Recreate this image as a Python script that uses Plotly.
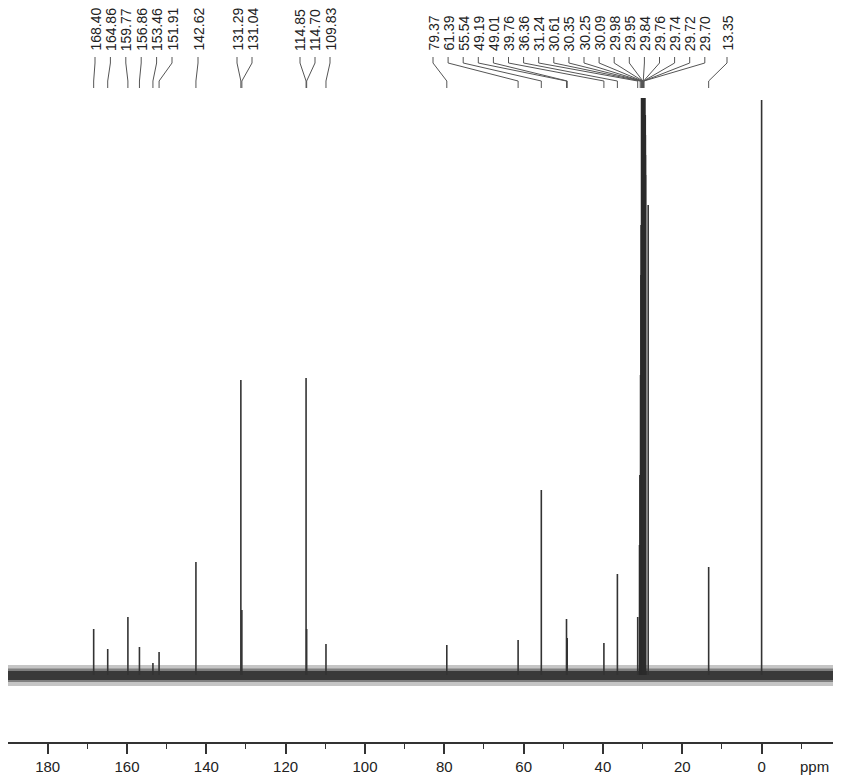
import plotly.graph_objects as go

# ---------------- data ----------------
label_ppm = [168.40, 164.86, 159.77, 156.86, 153.46, 151.91, 142.62, 131.29, 131.04,
             114.85, 114.70, 109.83, 79.37, 61.39, 55.54, 49.19, 49.01, 39.76, 36.36,
             31.24, 30.61, 30.35, 30.25, 30.09, 29.98, 29.95, 29.84, 29.76, 29.74,
             29.72, 29.70, 13.35]
label_text = ["168.40", "164.86", "159.77", "156.86", "153.46", "151.91", "142.62", "131.29", "131.04",
              "114.85", "114.70", "109.83", "79.37", "61.39", "55.54", "49.19", "49.01", "39.76", "36.36",
              "31.24", "30.61", "30.35", "30.25", "30.09", "29.98", "29.95", "29.84", "29.76", "29.74",
              "29.72", "29.70", "13.35"]
peak_height = [46, 26, 58, 28, 12, 23, 113, 295, 65,
               297, 46, 31, 30, 35, 185, 56, 37, 32, 101,
               58, 60, 130, 200, 300, 400, 450, 577, 560, 540,
               520, 500, 108]
# peaks without a printed label (shoulder of the CH2 envelope and TMS reference)
extra_ppm = [28.6, 0.0]
extra_height = [470, 575]
noise_level = 5  # half-height of the dense baseline noise band

tick_vals = [180, 160, 140, 120, 100, 80, 60, 40, 20, 0]
minor_vals = [170, 150, 130, 110, 90, 70, 50, 30, 10, -10]

# ---------------- layout helpers (screen pixels) ----------------
SCREEN_W, SCREEN_H = 847, 779
BODY = 8                       # default page margin of the html body
W, H = SCREEN_W - BODY, SCREEN_H - BODY
PLOT_L, PLOT_R = 8, 833        # screen x of plot edges
PLOT_T, PLOT_B = 8, 742        # screen y of plot edges
X_LEFT, X_RIGHT = 190.0, -18.0
BASE_PX = 675                  # screen row of the baseline
Y_MIN, Y_MAX = BASE_PX - PLOT_B, BASE_PX - PLOT_T

ML = PLOT_L - BODY
MR = W - (PLOT_R - BODY)
MT = PLOT_T - BODY
MB = H - (PLOT_B - BODY)


def px_to_ppm(px):
    return X_LEFT - (px - PLOT_L) * (X_LEFT - X_RIGHT) / (PLOT_R - PLOT_L)


def py_to_int(py):
    return BASE_PX - py


# label slot groups: (start px, spacing px, count)
slot_groups = [(95, 15.4, 6), (198, 0, 1), (237, 15, 2), (300, 15, 3), (433, 15.1, 19), (727, 0, 1)]
slots_px = []
for s, d, n in slot_groups:
    slots_px += [s + d * k for k in range(n)]

BIG = 120  # peaks taller than this inside the CH2 envelope are drawn as a thick bar

fig = go.Figure()

# baseline noise band
def band(lo, hi, color):
    fig.add_trace(go.Scatter(x=[X_LEFT, X_RIGHT, X_RIGHT, X_LEFT, X_LEFT],
                             y=[lo, lo, hi, hi, lo], fill="toself", fillcolor=color,
                             line=dict(width=0), mode="lines", hoverinfo="skip", showlegend=False))


band(-noise_level * 2.2, noise_level * 2.0, "rgba(90,90,90,0.35)")
band(-noise_level * 1.4, noise_level * 1.3, "rgba(70,70,70,0.55)")
band(-noise_level, noise_level * 0.8, "rgba(50,50,50,0.9)")

# peaks
xs, ys, xb, yb = [], [], [], []
all_ppm = label_ppm + extra_ppm
all_h = peak_height + extra_height
for p, h in zip(all_ppm, all_h):
    if 29.6 < p < 30.4 and h > BIG:
        xb += [p, p, None]
        yb += [0, h, None]
    else:
        xs += [p, p, None]
        ys += [0, h, None]
fig.add_trace(go.Scatter(x=xs, y=ys, mode="lines", line=dict(color="#333333", width=1.6),
                         hoverinfo="skip", showlegend=False))
fig.add_trace(go.Scatter(x=xb, y=yb, mode="lines", line=dict(color="#2a2a2a", width=5),
                         hoverinfo="skip", showlegend=False))

# connectors
cx, cy = [], []
for p, spx in zip(label_ppm, slots_px):
    sp = px_to_ppm(spx)
    cx += [sp, sp, p, p, None]
    cy += [py_to_int(57), py_to_int(63), py_to_int(81), py_to_int(88), None]
fig.add_trace(go.Scatter(x=cx, y=cy, mode="lines", line=dict(color="#555555", width=1),
                         hoverinfo="skip", showlegend=False, cliponaxis=False))

# labels
for t, spx in zip(label_text, slots_px):
    fig.add_annotation(x=px_to_ppm(spx), y=py_to_int(53), xref="x", yref="y", text=t,
                       textangle=-90, showarrow=False, xanchor="center", yanchor="bottom",
                       font=dict(family="Liberation Sans, Arial", size=14, color="#222222"))

fig.add_annotation(x=1.0, y=0.0, xref="paper", yref="paper", text="ppm", showarrow=False,
                   xanchor="right", yanchor="top", yshift=-14, xshift=-2,
                   font=dict(family="Liberation Sans, Arial", size=15, color="#222222"))

fig.update_layout(
    width=W, height=H, margin=dict(l=ML, r=MR, t=MT, b=MB, pad=0),
    paper_bgcolor="white", plot_bgcolor="white",
    xaxis=dict(range=[X_LEFT, X_RIGHT], tickvals=tick_vals, ticktext=[str(v) for v in tick_vals],
               showline=True, linecolor="#333333", linewidth=1.5, ticks="outside", ticklen=10,
               tickcolor="#333333", tickwidth=1.5, showgrid=False, zeroline=False,
               tickfont=dict(family="Liberation Sans, Arial", size=15, color="#222222"),
               minor=dict(tickvals=minor_vals, ticks="outside",
                          ticklen=5, tickcolor="#333333", tickwidth=1.2)),
    yaxis=dict(range=[Y_MIN, Y_MAX], visible=False, showgrid=False, zeroline=False),
    showlegend=False,
)

fig.write_html("out.html")
